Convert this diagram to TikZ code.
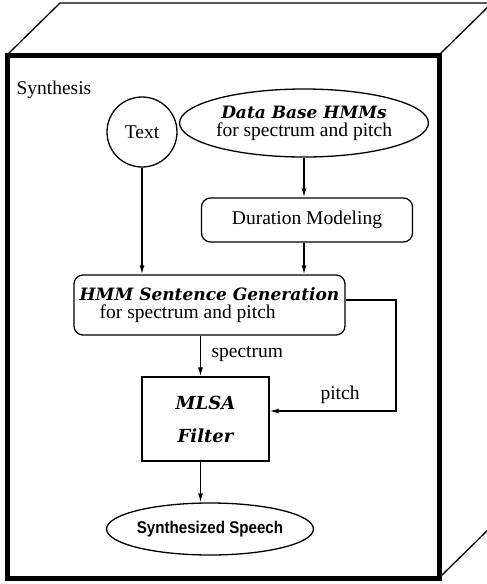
\documentclass[tikz,border=0pt]{standalone}
\usepackage{fontspec}
\setmainfont{Liberation Serif}
\newfontfamily\heavyserif{DejaVu Serif}
\newfontfamily\narrowsans[FakeStretch=0.89]{Liberation Sans}
\usetikzlibrary{
  shapes.geometric,
  arrows.meta,
  positioning
}
\newcommand{\hmmbold}{\heavyserif\bfseries\itshape\fontsize{17}{18}\selectfont}

\begin{document}
\begin{tikzpicture}[
  x=1pt, y=-1pt,
  font=\fontsize{19.5}{18}\selectfont,
  box/.style={rectangle, draw=black, line width=1.3pt, inner sep=0pt, align=center},
  roundbox/.style={box, rounded corners=9pt},
  oval/.style={ellipse, draw=black, line width=1.3pt, inner sep=0pt, align=center},
  arrow/.style={-{Latex[length=9pt,width=5pt]}, line width=1.3pt},
  frame/.style={line width=1.3pt}
]
\useasboundingbox (0,0) rectangle (487,584);
\clip (0,0) rectangle (487,584);

% Back edges of the box
\draw[frame] (7,55) -- (60,3) -- (492,3);
\draw[frame] (439,55) -- (492,3);
\draw[frame] (439,578) -- (492,526);

% Front face
\draw[line width=5pt] (7,55) rectangle (439,578);

% Inputs
\node[anchor=west] (title) at (13,90) {Synthesis};
\node[circle, draw=black, line width=1.3pt, minimum size=70pt, inner sep=0pt] (text) at (142,132) {Text};
\node[oval, minimum width=220pt, minimum height=68pt] (db) at (304,123) {{\hmmbold Data Base HMMs}\\for spectrum and pitch};
\node[roundbox, minimum width=211pt, minimum height=44pt] (dur) at (307,220) {Duration Modeling};

% Generation and filter
\node[roundbox, minimum width=271pt, minimum height=60pt, align=left] (hmm) at (209.5,305) {{\hmmbold HMM Sentence Generation}\\\hspace*{20pt}for spectrum and pitch};
\node[box, minimum width=127pt, minimum height=84pt, font=\heavyserif\bfseries\itshape\fontsize{18}{33}\selectfont] (mlsa) at (205.5,419) {MLSA\\Filter};
\node[oval, minimum width=204pt, minimum height=52pt, font=\narrowsans\bfseries\fontsize{17}{17}\selectfont] (speech) at (210,529) {Synthesized Speech};

% Labels on the connectors
\node[anchor=west] (speclbl) at (208,354) {spectrum};
\node (pitchlbl) at (340,395) {pitch};

% Connectors
\coordinate (turn) at (396,300);
\coordinate (spec) at ([xshift=-5pt]mlsa.north);
\draw[arrow] (text.south) -- (text.south |- hmm.north);
\draw[arrow] (db.south) -- (db.south |- dur.north);
\draw[arrow] (dur.south -| db.south) -- (db.south |- hmm.north);
\draw[arrow] (spec |- hmm.south) -- (spec);
\draw[arrow] (hmm.east |- turn) -- (turn) |- ([yshift=8pt]mlsa.east);
\draw[arrow] (mlsa.south -| spec) -- (speech.north -| spec);

\end{tikzpicture}
\end{document}
